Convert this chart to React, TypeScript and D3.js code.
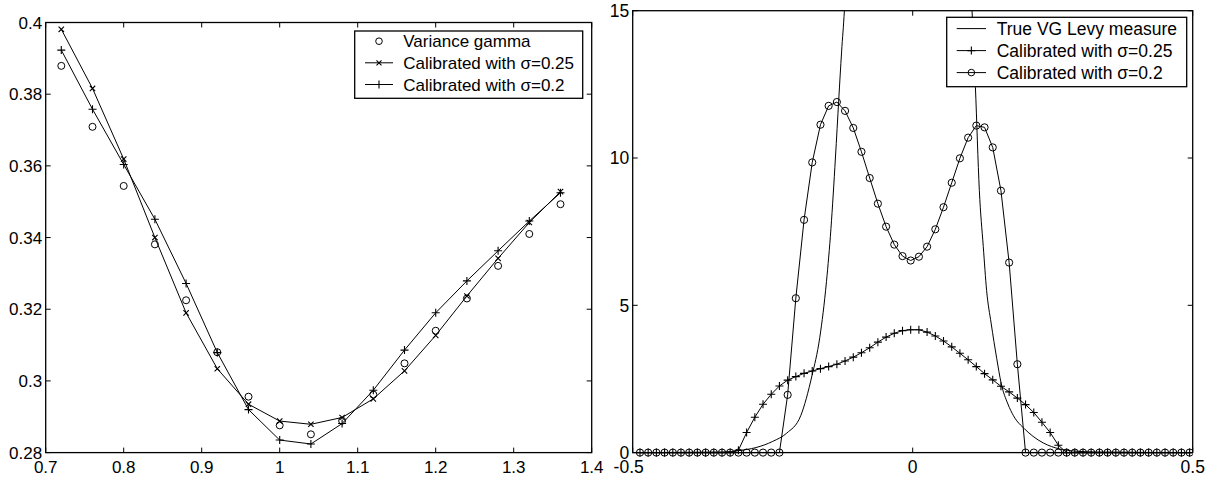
import React from "react";
import * as d3 from "d3";

// ---------- Left panel data ----------
const strikes = [0.72, 0.76, 0.8, 0.84, 0.88, 0.92, 0.96, 1.0, 1.04, 1.08, 1.12, 1.16, 1.2, 1.24, 1.28, 1.32, 1.36];
const vgVol = [0.3879, 0.3709, 0.3544, 0.3381, 0.3225, 0.308, 0.2956, 0.2876, 0.2851, 0.2889, 0.2962, 0.3049, 0.314, 0.323, 0.3321, 0.341, 0.3493];
const cal025Vol = [0.3981, 0.3816, 0.3619, 0.34, 0.319, 0.3034, 0.2935, 0.2888, 0.2879, 0.2898, 0.295, 0.3028, 0.3127, 0.3237, 0.3342, 0.3442, 0.3528];
const cal02Vol = [0.3923, 0.3758, 0.3604, 0.3451, 0.3272, 0.3079, 0.292, 0.2835, 0.2824, 0.2881, 0.2974, 0.3086, 0.319, 0.3279, 0.3363, 0.3446, 0.3525];
const leftXTicks = [0.7, 0.8, 0.9, 1.0, 1.1, 1.2, 1.3, 1.4];
const leftYTicks = [0.28, 0.3, 0.32, 0.34, 0.36, 0.38, 0.4];
const leftXLabels = ["0.7", "0.8", "0.9", "1", "1.1", "1.2", "1.3", "1.4"];
const leftYLabels = ["0.28", "0.3", "0.32", "0.34", "0.36", "0.38", "0.4"];
const leftLegend = ["Variance gamma", "Calibrated with \u03c3=0.25", "Calibrated with \u03c3=0.2"];

// ---------- Right panel data ----------
const gridX = [
  -0.487, -0.4724, -0.4577, -0.4431, -0.4284, -0.4138, -0.3991, -0.3845, -0.3698, -0.3552,
  -0.3405, -0.3259, -0.3112, -0.2966, -0.2819, -0.2673, -0.2526, -0.238, -0.2233, -0.2087,
  -0.194, -0.1794, -0.1647, -0.1501, -0.1354, -0.1208, -0.1061, -0.0915, -0.0768, -0.0622,
  -0.0475, -0.0329, -0.0182, -0.0036, 0.0111, 0.0257, 0.0404, 0.055, 0.0697, 0.0843,
  0.099, 0.1136, 0.1283, 0.1429, 0.1576, 0.1722, 0.1869, 0.2015, 0.2162, 0.2308,
  0.2455, 0.2601, 0.2748, 0.2894, 0.3041, 0.3187, 0.3334, 0.348, 0.3627, 0.3773,
  0.392, 0.4066, 0.4213, 0.4359, 0.4506, 0.4652, 0.4799, 0.4945,
];
const levy025 = [
  0, 0, 0, 0, 0, 0, 0, 0, 0, 0,
  0, 0, 0.08, 0.68, 1.2, 1.64, 1.98, 2.26, 2.46, 2.58,
  2.69, 2.77, 2.85, 2.92, 3.0, 3.11, 3.24, 3.39, 3.56, 3.75,
  3.92, 4.05, 4.14, 4.17, 4.17, 4.09, 3.96, 3.79, 3.59, 3.37,
  3.15, 2.92, 2.68, 2.47, 2.25, 2.06, 1.85, 1.63, 1.36, 1.03,
  0.68, 0.25, 0, 0, 0, 0, 0, 0, 0, 0,
  0, 0, 0, 0, 0, 0, 0, 0,
];
const levy02 = [
  0, 0, 0, 0, 0, 0, 0, 0, 0, 0,
  0, 0, 0, 0, 0, 0, 0, 0, 1.96, 5.24,
  7.9, 9.85, 11.13, 11.77, 11.9, 11.6, 11.02, 10.21, 9.32, 8.45,
  7.67, 7.06, 6.67, 6.52, 6.65, 6.99, 7.58, 8.33, 9.16, 9.99,
  10.69, 11.1, 11.04, 10.36, 8.89, 6.45, 3.0, 0, 0, 0,
  0, 0, 0, 0, 0, 0, 0, 0, 0, 0,
  0, 0, 0, 0, 0, 0, 0, 0,
];
const trueX = [-0.5, -0.34, -0.31, -0.28, -0.25, -0.225, -0.2, -0.18, -0.166, -0.154, -0.146, -0.138, -0.132, -0.127, -0.122, -0.117,
  0, 0.1, 0.106, 0.112, 0.119, 0.126, 0.132, 0.14, 0.15, 0.158, 0.17, 0.18, 0.2, 0.215, 0.233, 0.263, 0.29, 0.33, 0.5];
const trueY = [0, 0.02, 0.07, 0.17, 0.38, 0.66, 1.25, 2.6, 3.9, 5.8, 7.6, 10.0, 12.0, 13.6, 15.0, 17.0,
  NaN, 17.5, 15.0, 12.4, 8.9, 7.0, 5.5, 4.4, 3.2, 2.35, 1.65, 1.25, 0.8, 0.55, 0.33, 0.12, 0.05, 0.02, 0];
const rightXTicks = [-0.5, 0, 0.5];
const rightXLabels = ["-0.5", "0", "0.5"];
const rightYTicks = [0, 5, 10, 15];
const rightYLabels = ["0", "5", "10", "15"];
const rightLegend = ["True VG Levy measure", "Calibrated with \u03c3=0.25", "Calibrated with \u03c3=0.2"];

const FONT = "'Liberation Sans', Arial, Helvetica, sans-serif";

type Marker = "o" | "x" | "+" | "none";

function markerPath(kind: Marker, x: number, y: number, s: number): string {
  if (kind === "x") return `M${x - s},${y - s}L${x + s},${y + s}M${x - s},${y + s}L${x + s},${y - s}`;
  if (kind === "+") return `M${x - s},${y}L${x + s},${y}M${x},${y - s}L${x},${y + s}`;
  return "";
}

function Mark({ kind, x, y, r, s }: { kind: Marker; x: number; y: number; r: number; s: number }) {
  if (kind === "o") return <circle cx={x} cy={y} r={r} fill="none" stroke="#000" strokeWidth={1} />;
  if (kind === "none") return null;
  return <path d={markerPath(kind, x, y, s)} stroke="#000" strokeWidth={1.1} fill="none" />;
}

function Frame({ x0, x1, y0, y1, xt, yt, xs, ys, xl, yl, fs }: any) {
  const tl = 5;
  return (
    <g>
      <rect x={x0} y={y0} width={x1 - x0} height={y1 - y0} fill="none" stroke="#000" strokeWidth={1.3} />
      {xt.map((t: number, i: number) => {
        const px = xs(t);
        const neg = String(xl[i]).startsWith("-");
        return (
          <g key={"x" + i}>
            <line x1={px} x2={px} y1={y1} y2={y1 - tl} stroke="#000" strokeWidth={1} />
            <line x1={px} x2={px} y1={y0} y2={y0 + tl} stroke="#000" strokeWidth={1} />
            <text x={px + (neg ? -4 : 0)} y={y1 + 20.5} textAnchor="middle" fontSize={fs} fontFamily={FONT}>{xl[i]}</text>
          </g>
        );
      })}
      {yt.map((t: number, i: number) => {
        const py = ys(t);
        return (
          <g key={"y" + i}>
            <line x1={x0} x2={x0 + tl} y1={py} y2={py} stroke="#000" strokeWidth={1} />
            <line x1={x1} x2={x1 - tl} y1={py} y2={py} stroke="#000" strokeWidth={1} />
            <text x={x0 - 3.5} y={py + 6.2} textAnchor="end" fontSize={fs} fontFamily={FONT}>{yl[i]}</text>
          </g>
        );
      })}
    </g>
  );
}

function Legend({ x0, y0, w, h, rows, markers, lines, lx0, lx1, tx, ry, fs }: any) {
  return (
    <g>
      <rect x={x0} y={y0} width={w} height={h} fill="#fff" stroke="#000" strokeWidth={1.3} />
      {rows.map((r: string, i: number) => {
        const cy = ry[i];
        const mx = (lx0 + lx1) / 2;
        return (
          <g key={i}>
            {lines[i] && <line x1={lx0} x2={lx1} y1={cy} y2={cy} stroke="#000" strokeWidth={1} />}
            <Mark kind={markers[i]} x={mx} y={cy} r={3.3} s={markers[i] === "x" ? 2.5 : 4} />
            <text x={tx} y={cy + 6} fontSize={fs} fontFamily={FONT}>{r}</text>
          </g>
        );
      })}
    </g>
  );
}

export default function App() {
  // Left panel
  const L = { x0: 45.7, x1: 591.7, y0: 22.5, y1: 452.6 };
  const lx = d3.scaleLinear().domain([0.7, 1.4]).range([L.x0, L.x1]);
  const ly = d3.scaleLinear().domain([0.28, 0.4]).range([L.y1, L.y0]);
  const lline = d3.line<number>().x((_, i) => lx(strikes[i])).y((v) => ly(v));

  // Right panel
  const R = { x0: 632.7, x1: 1192.7, y0: 10.7, y1: 452.6 };
  const rx = d3.scaleLinear().domain([-0.5, 0.5]).range([R.x0, R.x1]);
  const ry = d3.scaleLinear().domain([0, 15]).range([R.y1, R.y0]);
  const gline = d3.line<number>().x((_, i) => rx(gridX[i])).y((v) => ry(v));
  const tline = d3
    .line<number>()
    .defined((v) => !isNaN(v))
    .x((_, i) => rx(trueX[i]))
    .y((v) => ry(v))
    .curve(d3.curveMonotoneX);

  return (
    <svg width={1211} height={477} style={{ position: "absolute", left: 0, top: 0, background: "#fff" }}>
      <rect x={0} y={0} width={1211} height={477} fill="#fff" />
      <defs>
        <clipPath id="clipR">
          <rect x={R.x0} y={R.y0} width={R.x1 - R.x0} height={R.y1 - R.y0 + 6} />
        </clipPath>
      </defs>

      {/* Left panel */}
      <Frame x0={L.x0} x1={L.x1} y0={L.y0} y1={L.y1} xt={leftXTicks} yt={leftYTicks} xs={lx} ys={ly}
        xl={leftXLabels} yl={leftYLabels} fs={17} />
      <path d={lline(cal025Vol) || ""} fill="none" stroke="#000" strokeWidth={1} />
      <path d={lline(cal02Vol) || ""} fill="none" stroke="#000" strokeWidth={1} />
      {strikes.map((s, i) => (
        <g key={"lm" + i}>
          <Mark kind="o" x={lx(s)} y={ly(vgVol[i])} r={3.5} s={0} />
          <Mark kind="x" x={lx(s)} y={ly(cal025Vol[i])} r={0} s={2.7} />
          <Mark kind="+" x={lx(s)} y={ly(cal02Vol[i])} r={0} s={4} />
        </g>
      ))}
      <Legend x0={354.7} y0={31} w={228} h={67.3} rows={leftLegend} markers={["o", "x", "+"]}
        lines={[false, true, true]} lx0={365} lx1={393} tx={403.3} ry={[41.2, 62.8, 84.5]} fs={17} />

      {/* Right panel */}
      <Frame x0={R.x0} x1={R.x1} y0={R.y0} y1={R.y1} xt={rightXTicks} yt={rightYTicks} xs={rx} ys={ry}
        xl={rightXLabels} yl={rightYLabels} fs={17.5} />
      <g clipPath="url(#clipR)">
        <path d={tline(trueY) || ""} fill="none" stroke="#000" strokeWidth={1} />
        <path d={gline(levy025) || ""} fill="none" stroke="#000" strokeWidth={1} />
        <path d={gline(levy02) || ""} fill="none" stroke="#000" strokeWidth={1} />
        {gridX.map((g, i) => (
          <g key={"rm" + i}>
            <Mark kind="+" x={rx(g)} y={ry(levy025[i])} r={0} s={4} />
            <Mark kind="o" x={rx(g)} y={ry(levy02[i])} r={3.6} s={0} />
          </g>
        ))}
      </g>
      <Legend x0={946.7} y0={17.3} w={240} h={69.4} rows={rightLegend} markers={["none", "+", "o"]}
        lines={[true, true, true]} lx0={956.7} lx1={986} tx={996.7} ry={[28.6, 50.6, 72.6]} fs={17.5} />
    </svg>
  );
}
